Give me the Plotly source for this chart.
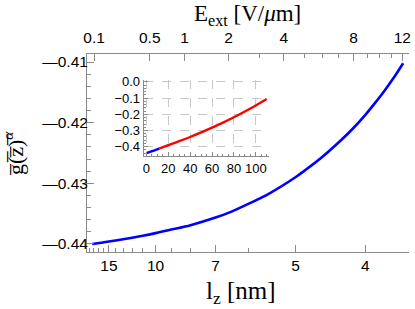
import plotly.graph_objects as go

# ---- data ----
lz = [18.3, 16, 14, 12, 11, 10, 9, 8, 7, 6.5, 6, 5.5, 5, 4.8, 4.6, 4.3, 4.15, 4, 3.9, 3.8, 3.7, 3.61]
g_main = [-0.44000, -0.43974, -0.43943, -0.43897, -0.43864, -0.43821, -0.43762, -0.43690, -0.43565,
          -0.43470, -0.43335, -0.4316, -0.4290, -0.4276, -0.4260, -0.4229, -0.4210, -0.4187,
          -0.4169, -0.4149, -0.4126, -0.4102]

lz_ticks = [15, 10, 7, 5, 4]
lz_minor = [20, 19, 18, 17, 16, 14, 13, 12, 11, 9, 8, 6]
E_ticks = [0.1, 0.5, 1, 2, 4, 8, 12]
E_labels = ["0.1", "0.5", "1", "2", "4", "8", "12"]
E_minor = [3, 5, 6, 7, 9, 10, 11]
y_ticks = [-0.44, -0.43, -0.42, -0.41]
y_labels = ["\u20140.44", "\u20140.43", "\u20140.42", "\u20140.41"]

E_blue = [0, 2, 4, 6, 8, 10, 12]
g_blue = [-0.4402, -0.4347, -0.4301, -0.4256, -0.4207, -0.4156, -0.4102]
E_red = [12, 20, 30, 40, 50, 60, 70, 80, 90, 100, 110]
g_red = [-0.4102, -0.390, -0.366, -0.340, -0.312, -0.282, -0.251, -0.218, -0.183, -0.146, -0.106]
inset_xticks = [0, 20, 40, 60, 80, 100]
inset_yticks = [0.0, -0.1, -0.2, -0.3, -0.4]

# axis transform: bottom axis linear in 1/l_z ; E_ext ~ 568 / l_z^3
E_SCALE = 568.0
def u_of_lz(l):
    return 1.0 / l
def u_of_E(e):
    return (e / E_SCALE) ** (1.0 / 3.0)

XR = [0.05096, 0.2812]
YR = [-0.44132, -0.40868]
AX = "#8a8a8a"
SANS = "Liberation Sans, Arial, sans-serif"
SERIF = "Liberation Serif, Times New Roman, serif"

fig = go.Figure()
fig.add_trace(go.Scatter(x=[u_of_lz(l) for l in lz], y=g_main, mode="lines",
                         line=dict(color="#0000ff", width=2.6, shape="spline"),
                         xaxis="x", yaxis="y", showlegend=False, hoverinfo="skip"))
fig.add_trace(go.Scatter(x=[u_of_lz(l) for l in lz], y=g_main, mode="lines",
                         line=dict(color="rgba(0,0,0,0)", width=0),
                         xaxis="x2", yaxis="y", showlegend=False, hoverinfo="skip"))
fig.add_trace(go.Scatter(x=E_red, y=g_red, mode="lines",
                         line=dict(color="#ff0000", width=2.4, shape="spline"),
                         xaxis="x3", yaxis="y3", showlegend=False, hoverinfo="skip"))
fig.add_trace(go.Scatter(x=E_blue, y=g_blue, mode="lines",
                         line=dict(color="#0000ff", width=2.4, shape="spline"),
                         xaxis="x3", yaxis="y3", showlegend=False, hoverinfo="skip"))

common = dict(showgrid=False, zeroline=False, showline=True, linecolor=AX, linewidth=1,
              ticks="inside", tickcolor=AX, tickwidth=1, ticklen=7, ticklabeloverflow="allow",
              tickfont=dict(family=SANS, size=15.5, color="black"))

fig.update_layout(
    width=415, height=309,
    margin=dict(l=87, r=4, t=54, b=57),
    paper_bgcolor="white", plot_bgcolor="white",
    xaxis=dict(domain=[0, 1], range=XR, anchor="y", tickmode="array",
               tickvals=[u_of_lz(l) for l in lz_ticks], ticktext=[str(l) for l in lz_ticks],
               ticklabelstandoff=-1,
               minor=dict(tickmode="array", tickvals=[u_of_lz(l) for l in lz_minor],
                          ticks="inside", ticklen=4, tickcolor=AX), **common),
    xaxis2=dict(range=XR, overlaying="x", side="top", anchor="y", tickmode="array",
                tickvals=[u_of_E(e) for e in E_ticks], ticktext=E_labels,
                ticklabelstandoff=4,
                minor=dict(tickmode="array", tickvals=[u_of_E(e) for e in E_minor],
                           ticks="inside", ticklen=4, tickcolor=AX), **common),
    yaxis=dict(domain=[0, 1], range=YR, anchor="x", tickmode="array", tickvals=y_ticks,
               ticktext=y_labels, ticklabelstandoff=-5,
               minor=dict(dtick=0.002, tick0=-0.44, ticks="inside", ticklen=4, tickcolor=AX),
               **common),
    xaxis3=dict(domain=[0.176, 0.565], range=[-2.5, 112], anchor="y3", tickmode="array",
                tickvals=inset_xticks, showgrid=True, gridcolor="#c8c8c8", griddash="dash",
                gridwidth=1, zeroline=False, showline=True, linecolor=AX, linewidth=1,
                ticks="inside", tickcolor=AX, ticklen=4,
                minor=dict(dtick=5, tick0=0, ticks="inside", ticklen=2, tickcolor=AX),
                tickfont=dict(family=SANS, size=13, color="black")),
    yaxis3=dict(domain=[0.485, 0.869], range=[-0.457, 0.012], anchor="x3", tickmode="array",
                tickvals=inset_yticks, tickformat=".1f", showgrid=True, gridcolor="#c8c8c8",
                griddash="dash", gridwidth=1, zeroline=False, showline=True, linecolor=AX,
                linewidth=1, ticks="inside", tickcolor=AX, ticklen=4,
                minor=dict(dtick=0.02, tick0=0, ticks="inside", ticklen=2, tickcolor=AX),
                tickfont=dict(family=SANS, size=13, color="black")),
)

fig.add_annotation(text="E<sub>ext</sub> [V/<i>μ</i>m]", xref="paper", yref="paper",
                   x=0.499, y=(252 - 15) / 198, xanchor="center", yanchor="middle",
                   showarrow=False, font=dict(family=SERIF, size=23, color="black"))
fig.add_annotation(text="l<sub>z</sub> [nm]", xref="paper", yref="paper",
                   x=(241.5 - 87) / 324, y=(252 - 292) / 198, xanchor="center", yanchor="middle",
                   showarrow=False, font=dict(family=SERIF, size=25, color="black"))
fig.add_annotation(text="g\u0305(\u0305z\u0305)\u0305<sup><i>α</i></sup>", xref="paper", yref="paper",
                   x=(13 - 87) / 324, y=(252 - 153) / 198, xanchor="center", yanchor="middle",
                   textangle=-90, showarrow=False,
                   font=dict(family=SERIF, size=22, color="black"))

fig.write_html("out.html", config={"displayModeBar": False},
               post_script="document.body.style.margin='0';document.body.style.overflow='hidden';")
